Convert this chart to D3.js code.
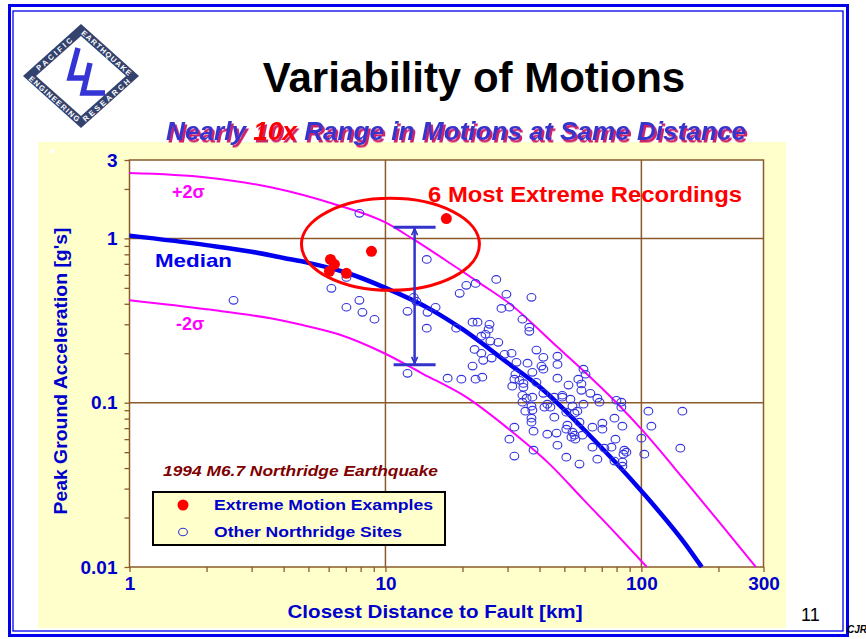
<!DOCTYPE html>
<html>
<head>
<meta charset="utf-8">
<script src="https://cdn.jsdelivr.net/npm/d3@7/dist/d3.min.js"></script>
<style>
  html, body { margin: 0; padding: 0; background: #fff; overflow: hidden; }
  svg { display: block; }
  text { font-family: "Liberation Sans", Arial, Helvetica, sans-serif; }
</style>
</head>
<body>
<script>
// tick labels shown on the axes
const xTickLabels = [1, 10, 100, 300];
const yTickLabels = [0.01, 0.1, 1, 3];

// median and +/- 2 sigma attenuation curves (distance km, PGA g)
const medianDist = [1, 2, 3, 4, 5, 7, 10, 15, 20, 30, 40, 60, 100, 150, 172];
const medianPGA  = [1.04, 0.91, 0.83, 0.76, 0.71, 0.62, 0.50, 0.37, 0.28, 0.175, 0.125, 0.068, 0.029, 0.0135, 0.01];

const upperDist = [1, 2, 3.6, 6.2, 10, 12.7, 18.9, 24, 30, 47, 58.5, 80, 100, 147, 200, 280];
const upperPGA  = [2.5, 2.35, 2.04, 1.63, 1.25, 1.0, 0.667, 0.52, 0.41, 0.218, 0.16, 0.1, 0.069, 0.034, 0.019, 0.01];

const lowerDist = [1, 2, 3.6, 4.6, 6.6, 9.9, 14, 20.7, 30, 44, 59, 80, 105];
const lowerPGA  = [0.42, 0.37, 0.325, 0.30, 0.26, 0.20, 0.15, 0.108, 0.07, 0.042, 0.026, 0.0158, 0.01];

// the 6 most extreme recordings
const extremeDist = [17.3, 8.82, 6.10, 6.32, 6.04, 7.04];
const extremePGA  = [1.32, 0.834, 0.745, 0.695, 0.63, 0.613];

// other Northridge sites
const otherDist = [
  7.91, 14.5, 6.15, 7.04, 7.91, 7.04, 8.13, 9.06, 12.9, 13.2, 12.2, 15.7, 14.6, 14.5, 12.2,
  19.5, 20.7, 22.5, 18.9, 21.9, 22.9, 23.7, 22.3, 23.7, 21.9, 17.5, 19.8, 22.5, 23.9, 24.1,
  2.55, 27.1, 29.7, 37.2, 28.4, 30.5, 34.3, 25.5, 25.3, 24.6, 36.5, 36.5, 25.7, 27.6, 26.0,
  29.2, 31.1, 38.9, 41.4, 47.0, 47.0, 32.5, 35.9, 40.7, 41.4, 37.5, 32.2, 31.9, 33.4, 31.3,
  34.6, 38.9, 47.0, 51.9, 56.7, 59.4, 58.3, 58.3, 63.2, 67.3, 68.6, 79.9, 83.5, 83.5, 34.3,
  35.6, 37.5, 41.4, 45.7, 49.1, 52.8, 59.4, 37.2, 41.8, 42.9, 44.1, 37.5, 50.9, 54.8, 56.2,
  45.7, 64.4, 70.4, 78.5, 37.2, 37.2, 31.9, 51.4, 50.9, 57.3, 70.4, 53.8, 106.5, 144.6, 109.4,
  100, 102.7, 142, 84.3, 53.8, 54.8, 53.3, 55.2, 58.8, 79.2, 64.4, 71.7, 76.4, 85.8, 85.1,
  87.4, 50.9, 57.3, 67.3, 78.5, 84.3, 84.3, 35.2, 37.9, 30.5, 31.9, 37.9, 42.9, 46.6, 47.0,
  34.3, 34.6, 60.5, 49.1
];
const otherPGA = [
  1.42, 0.745, 0.497, 0.579, 0.420, 0.381, 0.355, 0.322, 0.438, 0.414, 0.360, 0.381, 0.355, 0.284, 0.151,
  0.463, 0.518, 0.532, 0.284, 0.309, 0.309, 0.254, 0.211, 0.200, 0.167, 0.141, 0.139, 0.139, 0.143, 0.181,
  0.420, 0.563, 0.457, 0.438, 0.375, 0.381, 0.322, 0.300, 0.280, 0.261, 0.288, 0.272, 0.237, 0.233, 0.187,
  0.197, 0.200, 0.209, 0.189, 0.192, 0.171, 0.176, 0.174, 0.167, 0.160, 0.153, 0.149, 0.139, 0.137, 0.126,
  0.131, 0.133, 0.141, 0.128, 0.139, 0.160, 0.130, 0.119, 0.114, 0.1065, 0.1007, 0.1035, 0.1007, 0.0939, 0.111,
  0.1065, 0.108, 0.114, 0.108, 0.108, 0.105, 0.0979, 0.0952, 0.0939, 0.0979, 0.0939, 0.090, 0.0876, 0.0864, 0.0888,
  0.0816, 0.071, 0.075, 0.0805, 0.0805, 0.0761, 0.071, 0.073, 0.069, 0.0761, 0.069, 0.0952, 0.0888, 0.0888, 0.072,
  0.0608, 0.0486, 0.0529, 0.072, 0.0662, 0.0634, 0.0617, 0.060, 0.0634, 0.060, 0.0536, 0.0529, 0.0536, 0.0514, 0.0486,
  0.050, 0.0466, 0.0423, 0.0453, 0.0441, 0.0435, 0.0411, 0.0888, 0.0671, 0.060, 0.0473, 0.0514, 0.0643, 0.0653, 0.0551,
  0.1007, 0.124, 0.149, 0.111
];

// annotations: range arrow and ellipse around the extreme points
const arrowDist = 13;
const arrowTopPGA = 1.17;
const arrowBottomPGA = 0.17;
const ellipseDist = 10.46;
const ellipsePGA = 0.92;

const W = 866, H = 639;
const brown = "#8b5a2b";
const axisBlue = "#0000cc";
const magenta = "#ff00ff";

const svg = d3.select("body").append("svg")
  .attr("width", W).attr("height", H);

const defs = svg.append("defs");
// pink drop shadow used by the subtitle
const shadow = defs.append("filter").attr("id", "subShadow")
  .attr("x", "-5%").attr("y", "-30%").attr("width", "110%").attr("height", "160%");
shadow.append("feDropShadow").attr("dx", 2).attr("dy", 2.5).attr("stdDeviation", 0.4)
  .attr("flood-color", "#cc2266").attr("flood-opacity", 1);

// page frame
svg.append("rect").attr("x", 9.5).attr("y", 5.5).attr("width", 838).attr("height", 630)
  .attr("fill", "none").attr("stroke", "#0000ee").attr("stroke-width", 3);
svg.append("rect").attr("x", 13).attr("y", 11).attr("width", 830).attr("height", 620)
  .attr("fill", "none").attr("stroke", "#0000ee").attr("stroke-width", 1.3);

// ---- logo ----
const logo = svg.append("g").attr("transform", "translate(81,76)");
logo.append("path").attr("d", "M-58,0 L0,-52 L58,0 L0,52 Z").attr("fill", "#34426e");
logo.append("path").attr("d", "M-45,0 L0,-40 L45,0 L0,40 Z").attr("fill", "#fff");
const sides = [
  { id: "lp1", d: "M-52,0 L0,-46", t: "PACIFIC" },
  { id: "lp2", d: "M0,-46 L52,0", t: "EARTHQUAKE" },
  { id: "lp3", d: "M-52,0 L0,46", t: "ENGINEERING" },
  { id: "lp4", d: "M0,46 L52,0", t: "RESEARCH" }
];
sides.forEach(s => {
  defs.append("path").attr("id", s.id).attr("d", s.d).attr("transform", "translate(81,76)");
});
sides.forEach(s => {
  svg.append("text")
    .attr("font-size", 7.5).attr("font-weight", "bold").attr("fill", "#fff")
    .attr("letter-spacing", s.t.length > 8 ? 1.2 : 2.6)
    .attr("dominant-baseline", "central")
    .append("textPath").attr("href", "#" + s.id)
    .attr("startOffset", "50%").attr("text-anchor", "middle")
    .text(s.t);
});
logo.append("path")
  .attr("d", "M-3,-28 L-11,2 L5,2 M9,-13 L2,17 L24,17")
  .attr("fill", "none").attr("stroke", "#3535d5").attr("stroke-width", 5.5)
  .attr("stroke-linejoin", "miter");

// ---- title ----
svg.append("text").attr("x", 474).attr("y", 92).attr("text-anchor", "middle")
  .attr("font-size", 42).attr("font-weight", "bold").attr("fill", "#000")
  .text("Variability of Motions");

// yellow panel
svg.append("rect").attr("x", 38).attr("y", 142).attr("width", 748).attr("height", 486)
  .attr("fill", "#ffffcc");
svg.append("rect").attr("x", 50).attr("y", 149).attr("width", 4).attr("height", 4).attr("fill", "#fff");

// subtitle
const sub = svg.append("text").attr("x", 166).attr("y", 140)
  .attr("font-size", 26).attr("font-weight", "bold").attr("font-style", "italic")
  .attr("textLength", 580).attr("lengthAdjust", "spacingAndGlyphs")
  .attr("fill", "#3434cc").attr("filter", "url(#subShadow)");
sub.append("tspan").text("Nearly ");
sub.append("tspan").attr("fill", "#ff0000").text("10x");
sub.append("tspan").text(" Range in Motions at Same Distance");

// ---- plot ----
const x = d3.scaleLog().domain([1, 300]).range([129.5, 763.5]);
const y = d3.scaleLog().domain([0.01, 3]).range([567, 160]);

svg.append("rect")
  .attr("x", x(1)).attr("y", y(3))
  .attr("width", x(300) - x(1)).attr("height", y(0.01) - y(3))
  .attr("fill", "#fff");

// grid lines at the inner decades
const gridX = xTickLabels.filter(d => d > 1 && d < 300 && Math.log10(d) % 1 === 0);
const gridY = yTickLabels.filter(d => d > 0.01 && d < 3);
svg.append("g").selectAll("line").data(gridX).join("line")
  .attr("x1", d => x(d)).attr("x2", d => x(d)).attr("y1", y(3)).attr("y2", y(0.01))
  .attr("stroke", brown).attr("stroke-width", 1.5);
svg.append("g").selectAll("line").data(gridY).join("line")
  .attr("x1", x(1)).attr("x2", x(300)).attr("y1", d => y(d)).attr("y2", d => y(d))
  .attr("stroke", brown).attr("stroke-width", 1.5);

function labelFor(d, list) {
  const hit = list.find(t => Math.abs(d - t) / t < 1e-6);
  return hit === undefined ? "" : String(hit);
}

const gx = svg.append("g").attr("transform", `translate(0,${y(0.01)})`)
  .call(d3.axisBottom(x).tickValues(x.ticks()).tickSize(5).tickPadding(5)
    .tickFormat(d => labelFor(d, xTickLabels)));
const gy = svg.append("g").attr("transform", `translate(${x(1)},0)`)
  .call(d3.axisLeft(y).tickValues(y.ticks()).tickSize(5).tickPadding(7)
    .tickFormat(d => labelFor(d, yTickLabels)));
[gx, gy].forEach(g => {
  g.select(".domain").remove();
  g.selectAll("line").attr("stroke", brown).attr("stroke-width", 1.3);
  g.selectAll("text").attr("fill", axisBlue).attr("font-size", 19)
    .attr("font-weight", "bold").attr("font-family", null);
});

// plot frame
svg.append("rect")
  .attr("x", x(1)).attr("y", y(3))
  .attr("width", x(300) - x(1)).attr("height", y(0.01) - y(3))
  .attr("fill", "none").attr("stroke", brown).attr("stroke-width", 1.5);

// axis titles
svg.append("text").attr("transform", "translate(67,371) rotate(-90)")
  .attr("text-anchor", "middle").attr("font-size", 18).attr("font-weight", "bold")
  .attr("fill", axisBlue).attr("textLength", 287).attr("lengthAdjust", "spacingAndGlyphs")
  .text("Peak Ground Acceleration [g's]");
svg.append("text").attr("x", 435).attr("y", 618)
  .attr("text-anchor", "middle").attr("font-size", 19).attr("font-weight", "bold")
  .attr("fill", axisBlue).attr("textLength", 295).attr("lengthAdjust", "spacingAndGlyphs")
  .text("Closest Distance to Fault [km]");

// curves
const line = d3.line().x(d => x(d[0])).y(d => y(d[1])).curve(d3.curveMonotoneX);
const plot = svg.append("g");
plot.append("path").datum(d3.zip(upperDist, upperPGA)).attr("d", line)
  .attr("fill", "none").attr("stroke", magenta).attr("stroke-width", 2);
plot.append("path").datum(d3.zip(lowerDist, lowerPGA)).attr("d", line)
  .attr("fill", "none").attr("stroke", magenta).attr("stroke-width", 2);
plot.append("path").datum(d3.zip(medianDist, medianPGA)).attr("d", line)
  .attr("fill", "none").attr("stroke", "#0000ee").attr("stroke-width", 4.5);

// other sites
plot.append("g").selectAll("ellipse").data(d3.zip(otherDist, otherPGA)).join("ellipse")
  .attr("cx", d => x(d[0])).attr("cy", d => y(d[1]))
  .attr("rx", 4.4).attr("ry", 3.8)
  .attr("fill", "none").attr("stroke", "#3333dd").attr("stroke-width", 1.1);

// extreme recordings
plot.append("g").selectAll("circle").data(d3.zip(extremeDist, extremePGA)).join("circle")
  .attr("cx", d => x(d[0])).attr("cy", d => y(d[1])).attr("r", 5.5)
  .attr("fill", "#ff0000");

// ellipse annotation
plot.append("ellipse")
  .attr("cx", x(ellipseDist)).attr("cy", y(ellipsePGA)).attr("rx", 89).attr("ry", 46)
  .attr("fill", "none").attr("stroke", "#ff0000").attr("stroke-width", 3);

// range arrow
const ax = x(arrowDist), aTop = y(arrowTopPGA), aBot = y(arrowBottomPGA);
const arrowCol = "#3333cc";
plot.append("line").attr("x1", ax).attr("x2", ax).attr("y1", aTop).attr("y2", aBot)
  .attr("stroke", arrowCol).attr("stroke-width", 2.5);
[aTop, aBot].forEach(yy => {
  plot.append("line").attr("x1", ax - 21).attr("x2", ax + 21).attr("y1", yy).attr("y2", yy)
    .attr("stroke", arrowCol).attr("stroke-width", 3);
});
plot.append("path")
  .attr("d", `M${ax - 3},${aTop + 8} L${ax},${aTop + 1.5} L${ax + 3},${aTop + 8}
              M${ax - 3},${aBot - 8} L${ax},${aBot - 1.5} L${ax + 3},${aBot - 8}`)
  .attr("fill", "none").attr("stroke", arrowCol).attr("stroke-width", 1.6);

// curve labels
svg.append("text").attr("x", 172).attr("y", 198).attr("font-size", 18).attr("font-weight", "bold")
  .attr("fill", magenta).text("+2\u03c3");
svg.append("text").attr("x", 176).attr("y", 330).attr("font-size", 18).attr("font-weight", "bold")
  .attr("fill", magenta).text("-2\u03c3");
svg.append("text").attr("x", 155).attr("y", 267).attr("font-size", 19).attr("font-weight", "bold")
  .attr("fill", "#0000ee").attr("textLength", 77).attr("lengthAdjust", "spacingAndGlyphs")
  .text("Median");
svg.append("text").attr("x", 428).attr("y", 202).attr("font-size", 22).attr("font-weight", "bold")
  .attr("fill", "#ff0000").attr("textLength", 314).attr("lengthAdjust", "spacingAndGlyphs")
  .text("6 Most Extreme Recordings");

// earthquake label and legend
svg.append("text").attr("x", 163).attr("y", 476).attr("font-size", 15).attr("font-weight", "bold")
  .attr("font-style", "italic").attr("fill", "#800000")
  .attr("textLength", 275).attr("lengthAdjust", "spacingAndGlyphs")
  .text("1994 M6.7 Northridge Earthquake");

const legend = svg.append("g");
legend.append("rect").attr("x", 153).attr("y", 492).attr("width", 292).attr("height", 53)
  .attr("fill", "#ffffcc").attr("stroke", "#000").attr("stroke-width", 2);
legend.append("circle").attr("cx", 183).attr("cy", 505).attr("r", 5.5).attr("fill", "#ff0000");
legend.append("ellipse").attr("cx", 183).attr("cy", 532).attr("rx", 4.4).attr("ry", 3.8)
  .attr("fill", "none").attr("stroke", "#3333dd").attr("stroke-width", 1.1);
legend.append("text").attr("x", 214).attr("y", 510).attr("font-size", 14).attr("font-weight", "bold")
  .attr("fill", "#0000cc").attr("textLength", 219).attr("lengthAdjust", "spacingAndGlyphs")
  .text("Extreme Motion Examples");
legend.append("text").attr("x", 214).attr("y", 537).attr("font-size", 14).attr("font-weight", "bold")
  .attr("fill", "#0000cc").attr("textLength", 188).attr("lengthAdjust", "spacingAndGlyphs")
  .text("Other Northridge Sites");

// page number and initials
svg.append("text").attr("x", 801).attr("y", 621).attr("font-size", 18)
  .attr("font-family", '"Liberation Serif", "Times New Roman", serif').attr("fill", "#000")
  .text("11");
svg.append("text").attr("x", 847).attr("y", 633).attr("font-size", 10).attr("font-weight", "bold")
  .attr("font-style", "italic").attr("fill", "#000").text("CJR");
</script>
</body>
</html>
